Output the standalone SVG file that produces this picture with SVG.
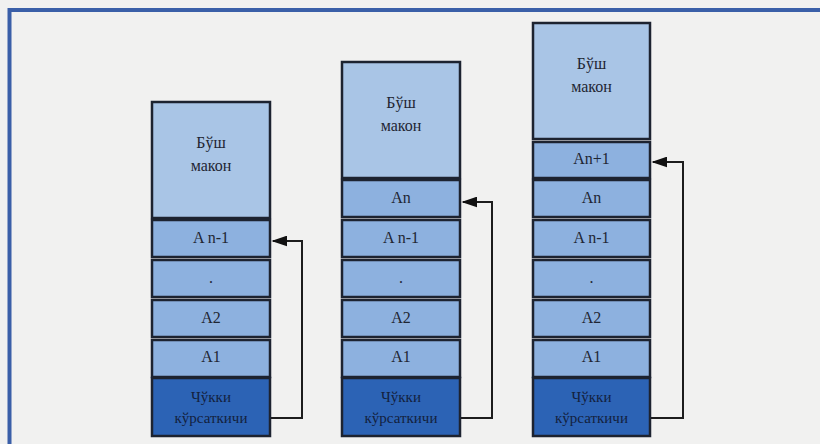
<svg xmlns="http://www.w3.org/2000/svg" width="820" height="444" viewBox="0 0 820 444">
<defs>
<style>
.free{fill:#a9c5e6;stroke:#1d2330;stroke-width:2.5}
.cell{fill:#8db1df;stroke:#1d2330;stroke-width:2.5}
.ptr{fill:#2c63b5;stroke:#1d2330;stroke-width:2.5}
.t{font-family:"Liberation Serif","DejaVu Serif",serif;font-size:16px;fill:#1f2633;text-anchor:middle}
.tp{font-family:"Liberation Serif","DejaVu Serif",serif;font-size:15px;fill:#13213d;text-anchor:middle}
.con{fill:none;stroke:#1d1d1d;stroke-width:2}
</style>
<marker id="ah" viewBox="0 0 10 10" refX="9" refY="5" markerWidth="8" markerHeight="5.5" orient="auto" markerUnits="strokeWidth" preserveAspectRatio="none">
<path d="M0,0 L10,5 L0,10 z" fill="#111"/>
</marker>
</defs>
<rect x="0" y="0" width="820" height="444" fill="#f1f1f0"/>
<path d="M9.5,444 V10 H820" fill="none" stroke="#3a5fa8" stroke-width="4"/>

<!-- Stack 1 -->
<g id="s1-free"><rect class="free" x="152" y="102" width="118" height="116"/><text class="t" x="211" y="148">Бўш</text><text class="t" x="211" y="171">макон</text></g>
<g id="s1-an1"><rect class="cell" x="152" y="220" width="118" height="37"/><text class="t" x="211" y="243">A n-1</text></g>
<g id="s1-dot"><rect class="cell" x="152" y="260" width="118" height="37"/><text class="t" x="211" y="283">.</text></g>
<g id="s1-a2"><rect class="cell" x="152" y="300" width="118" height="37"/><text class="t" x="211" y="323">A2</text></g>
<g id="s1-a1"><rect class="cell" x="152" y="340" width="118" height="37"/><text class="t" x="211" y="362">A1</text></g>
<g id="s1-ptr"><rect class="ptr" x="152" y="378" width="118" height="58"/><text class="tp" x="211" y="402">Чўкки</text><text class="tp" x="211" y="423">кўрсаткичи</text></g>

<!-- Stack 2 -->
<g id="s2-free"><rect class="free" x="342" y="62" width="118" height="116"/><text class="t" x="401" y="108">Бўш</text><text class="t" x="401" y="131">макон</text></g>
<g id="s2-an"><rect class="cell" x="342" y="180" width="118" height="37"/><text class="t" x="401" y="203">An</text></g>
<g id="s2-an1"><rect class="cell" x="342" y="220" width="118" height="37"/><text class="t" x="401" y="243">A n-1</text></g>
<g id="s2-dot"><rect class="cell" x="342" y="260" width="118" height="37"/><text class="t" x="401" y="283">.</text></g>
<g id="s2-a2"><rect class="cell" x="342" y="300" width="118" height="37"/><text class="t" x="401" y="323">A2</text></g>
<g id="s2-a1"><rect class="cell" x="342" y="340" width="118" height="37"/><text class="t" x="401" y="362">A1</text></g>
<g id="s2-ptr"><rect class="ptr" x="342" y="378" width="118" height="58"/><text class="tp" x="401" y="402">Чўкки</text><text class="tp" x="401" y="423">кўрсаткичи</text></g>

<!-- Stack 3 -->
<g id="s3-free"><rect class="free" x="533" y="23" width="117" height="116"/><text class="t" x="591.5" y="69">Бўш</text><text class="t" x="591.5" y="92">макон</text></g>
<g id="s3-anp1"><rect class="cell" x="533" y="142" width="117" height="36"/><text class="t" x="591.5" y="164">An+1</text></g>
<g id="s3-an"><rect class="cell" x="533" y="180" width="117" height="37"/><text class="t" x="591.5" y="203">An</text></g>
<g id="s3-an1"><rect class="cell" x="533" y="220" width="117" height="37"/><text class="t" x="591.5" y="243">A n-1</text></g>
<g id="s3-dot"><rect class="cell" x="533" y="260" width="117" height="37"/><text class="t" x="591.5" y="283">.</text></g>
<g id="s3-a2"><rect class="cell" x="533" y="300" width="117" height="37"/><text class="t" x="591.5" y="323">A2</text></g>
<g id="s3-a1"><rect class="cell" x="533" y="340" width="117" height="37"/><text class="t" x="591.5" y="362">A1</text></g>
<g id="s3-ptr"><rect class="ptr" x="533" y="378" width="117" height="58"/><text class="tp" x="591.5" y="402">Чўкки</text><text class="tp" x="591.5" y="423">кўрсаткичи</text></g>

<g id="connectors">
<path class="con" d="M271,418 H302 V241 H273" marker-end="url(#ah)"/>
<path class="con" d="M461,418 H492 V202 H463" marker-end="url(#ah)"/>
<path class="con" d="M651,418 H683 V162 H653" marker-end="url(#ah)"/>
</g>
</svg>
